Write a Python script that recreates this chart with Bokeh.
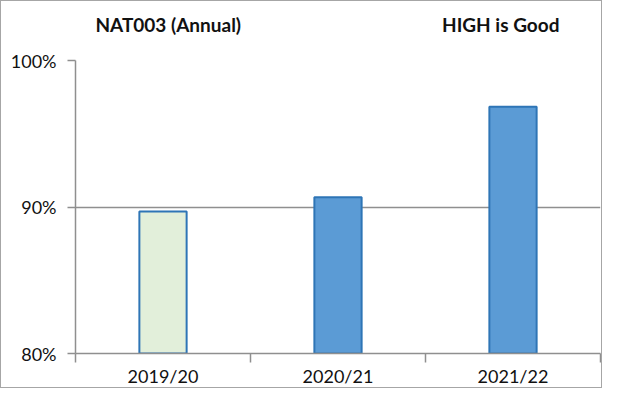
from bokeh.plotting import figure
from bokeh.models import FixedTicker, NumeralTickFormatter, Range1d, LinearAxis, ColumnDataSource
from bokeh.embed import file_html
from bokeh.resources import INLINE

categories = ["2019/20", "2020/21", "2021/22"]
values = [0.897, 0.9067, 0.9685]
fill_colors = ["#E2EFDA", "#5B9BD5", "#5B9BD5"]
line_colors = ["#2E75B6", "#2E75B6", "#2E75B6"]
y_ticks = [0.8, 0.9, 1.0]
title_texts = ["NAT003 (Annual)", "HIGH is Good"]
title_positions = [0.53, 2.43]

FONT = "Lato"
GRID = "#8f8f8f"
TEXT = "#111111"

xs = [i + 0.5 for i in range(len(categories))]
src = ColumnDataSource(dict(x=xs, top=values, fill=fill_colors, line=line_colors, cat=categories))

p = figure(width=602, height=388, output_backend="svg", toolbar_location=None,
           x_range=Range1d(0, len(categories)), y_range=Range1d(0.8, 1.0),
           min_border_left=74, min_border_right=3, min_border_top=59, min_border_bottom=33)
p.styles = {"border": "1px solid #a6a6a6"}
p.outline_line_color = None
p.background_fill_color = "white"

p.vbar(x="x", top="top", bottom=0.8, width=0.27, fill_color="fill", line_color="line",
       line_width=2, source=src)

# y axis
p.yaxis.ticker = FixedTicker(ticks=y_ticks)
p.yaxis.formatter = NumeralTickFormatter(format="0%")
p.yaxis.major_tick_out = 8
p.yaxis.major_tick_in = 0
p.yaxis.minor_tick_line_color = None
p.yaxis.axis_line_color = GRID
p.yaxis.axis_line_width = 1.5
p.yaxis.major_tick_line_color = GRID
p.yaxis.major_tick_line_width = 1.5
p.yaxis.major_label_standoff = 11
p.yaxis.major_label_text_font = FONT
p.yaxis.major_label_text_font_size = "18px"
p.yaxis.major_label_text_color = TEXT

# x axis
p.xaxis.ticker = FixedTicker(ticks=xs, minor_ticks=list(range(len(categories) + 1)))
p.xaxis.major_label_overrides = {x: c for x, c in zip(xs, categories)}
p.xaxis.major_tick_line_color = None
p.xaxis.major_tick_out = 0
p.xaxis.major_tick_in = 0
p.xaxis.minor_tick_out = 9
p.xaxis.minor_tick_in = 0
p.xaxis.minor_tick_line_color = GRID
p.xaxis.minor_tick_line_width = 1.5
p.xaxis.axis_line_color = GRID
p.xaxis.axis_line_width = 1.5
p.xaxis.major_label_standoff = 2
p.xaxis.major_label_text_font = FONT
p.xaxis.major_label_text_font_size = "18px"
p.xaxis.major_label_text_color = TEXT

p.xgrid.grid_line_color = None
p.ygrid.ticker = FixedTicker(ticks=y_ticks)
p.ygrid.grid_line_color = GRID
p.ygrid.grid_line_width = 1.5

# titles as a label-only axis above the frame
top_axis = LinearAxis(ticker=FixedTicker(ticks=title_positions, minor_ticks=[]),
                      major_label_overrides={x: t for x, t in zip(title_positions, title_texts)})
top_axis.axis_line_color = None
top_axis.major_tick_line_color = None
top_axis.minor_tick_line_color = None
top_axis.major_tick_out = 0
top_axis.major_tick_in = 0
top_axis.major_label_standoff = 25
top_axis.major_label_text_font = FONT
top_axis.major_label_text_font_style = "bold"
top_axis.major_label_text_font_size = "19px"
top_axis.major_label_text_color = TEXT
p.add_layout(top_axis, "above")

open("out.html", "w").write(file_html(p, INLINE))
